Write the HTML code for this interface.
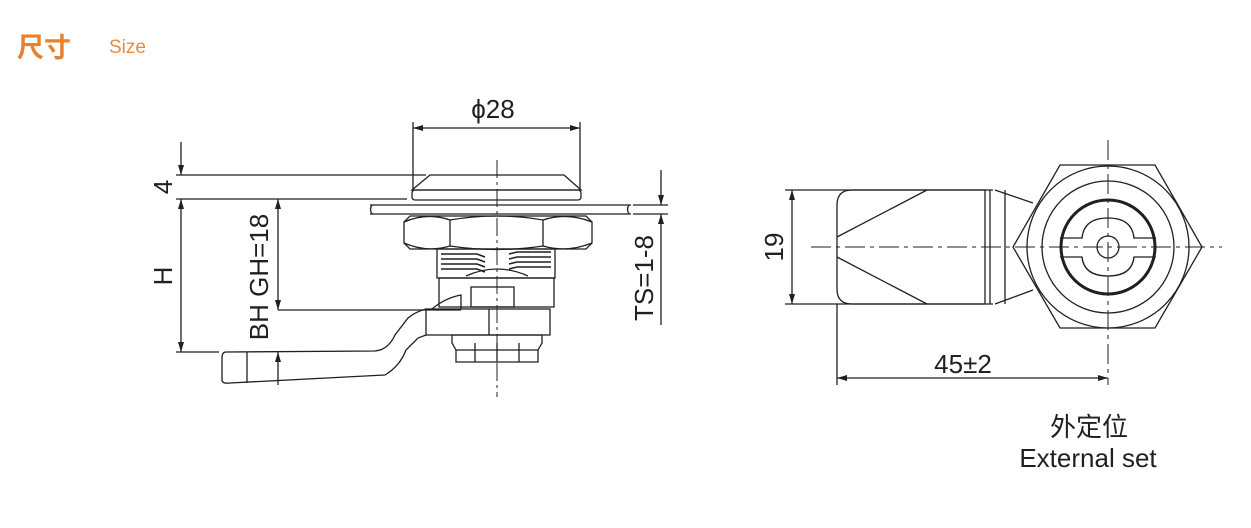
<!DOCTYPE html>
<html><head><meta charset="utf-8"><style>
html,body{margin:0;padding:0;background:#fff;}
svg{display:block}
text{font-family:"Liberation Sans","Noto Sans CJK SC",sans-serif;fill:#231f20}
</style></head><body>
<svg width="1251" height="528" viewBox="0 0 1251 528" xmlns="http://www.w3.org/2000/svg">
<defs>
<marker id="a" viewBox="0 0 10 6" refX="10" refY="3" markerWidth="10" markerHeight="6" orient="auto-start-reverse" markerUnits="userSpaceOnUse"><path d="M0,0 L10,3 L0,6 z" fill="#231f20"/></marker>
</defs>
<text x="17" y="57" style="font-size:27px;font-weight:bold;fill:#e8812f;font-family:'Noto Sans CJK SC',sans-serif">尺寸</text>
<text x="109" y="53" style="font-size:19px;fill:#ec8a3c">Size</text>

<g stroke="#231f20" fill="none" stroke-width="1.3">
<line x1="413" y1="122" x2="413" y2="190"/><line x1="580" y1="122" x2="580" y2="190"/>
<line x1="413" y1="128" x2="580" y2="128" marker-start="url(#a)" marker-end="url(#a)"/>
<path d="M430,175 L564,175 L581,190 L412,190 Z"/>
<rect x="412" y="190" width="169" height="10" rx="3"/>
<path d="M370,205 L631,205 M370,214 L631,214 M372,205 q-3,4 0,9 M629,205 q-3,4 0,9"/>
<!-- hex nut -->
<path d="M410,216 L586,216 L592,222 L592,243 L586,249 L410,249 L404,243 L404,222 Z"/>
<path d="M450,220 L450,246 M543,220 L543,246"/>
<path d="M404,222 Q427,212 450,220 Q497,212 543,220 Q567,212 592,222 M404,243 Q427,253 450,246 Q497,253 543,246 Q567,253 592,243"/>
<!-- thread -->
<rect x="437" y="249" width="118" height="29"/>
<path d="M441,254 h36 l8,3 M441,259 h36 l8,3 M441,264 h36 l8,3 M441,269 h36 l8,3 M509,254 l8,-2 h34 M509,259 l8,-2 h34 M509,264 l8,-2 h34 M509,269 l8,-2 h34" stroke-width="1.6"/>
<path d="M466,276 Q497,262 528,276"/>
<!-- body -->
<rect x="439" y="278" width="115" height="29"/>
<rect x="471" y="287" width="43" height="20"/>
<!-- cam -->
<rect x="426" y="309" width="124" height="26"/>
<line x1="489" y1="309" x2="489" y2="335"/>
<path d="M426,309 Q415,312 408,318 L395,335 Q388,350 375,351 L226,352 Q222,352 222,358 L222,380 Q222,384 230,383 L385,375 Q400,366 406,350 L418,338 L426,335"/>
<line x1="247" y1="352" x2="247" y2="383"/>
<path d="M432,309 Q445,298 461,295 L461,309"/>
<!-- bottom nut -->
<path d="M452,335 L542,335 L542,343 L538,350 L538,362 L456,362 L456,350 L452,343 Z"/>
<path d="M475,343 v19 M497,343 v19 M519,343 v19 M456,350 h82"/>
<line x1="497" y1="160" x2="497" y2="397" stroke-dasharray="18,4,3,4" stroke-width="1"/>
<line x1="176" y1="175" x2="426" y2="175"/><line x1="176" y1="199" x2="407" y2="199"/>
<line x1="181" y1="142" x2="181" y2="175" marker-end="url(#a)"/>
<line x1="181" y1="199" x2="181" y2="352" marker-start="url(#a)" marker-end="url(#a)"/>
<line x1="176" y1="352" x2="219" y2="352"/>
<line x1="278" y1="199" x2="278" y2="310" marker-start="url(#a)" marker-end="url(#a)"/>
<line x1="278" y1="352" x2="278" y2="385" marker-start="url(#a)"/>
<line x1="278" y1="310" x2="461" y2="310"/>
<line x1="633" y1="205" x2="668" y2="205"/><line x1="633" y1="214" x2="668" y2="214"/>
<line x1="661" y1="170" x2="661" y2="205" marker-end="url(#a)"/>
<line x1="661" y1="214" x2="661" y2="325" marker-start="url(#a)"/>

<!-- right view -->
<line x1="785" y1="190" x2="993" y2="190"/><line x1="785" y1="304" x2="993" y2="304"/>
<line x1="792" y1="190" x2="792" y2="304" marker-start="url(#a)" marker-end="url(#a)"/>
<path d="M852,190 L985,190 L985,304 L852,304 Q837,304 837,289 L837,205 Q837,190 852,190 Z"/>
<path d="M927,190 L837,237 M837,257 L927,304"/>
<path d="M990,190 V304 M1005,190 V304 M995,190 L1033,203 M995,304 L1033,290"/>
<path d="M1060,165 L1155,165 L1202,247 L1155,328 L1060,328 L1013,247 Z"/>
<circle cx="1108" cy="247" r="81" fill="#fff"/>
<circle cx="1108" cy="247" r="66"/>
<circle cx="1108" cy="247" r="47" stroke-width="3"/>
<path d="M1060,238 L1082,238 Q1084,218 1108,218 Q1132,218 1134,238 L1156,238 M1060,257 L1082,257 Q1084,276 1108,276 Q1132,276 1134,257 L1156,257"/>
<circle cx="1108" cy="247" r="11"/>
<line x1="811" y1="247" x2="1222" y2="247" stroke-dasharray="20,5,4,5" stroke-width="1"/>
<line x1="1108" y1="140" x2="1108" y2="385" stroke-dasharray="20,5,4,5" stroke-width="1"/>
<line x1="837" y1="304" x2="837" y2="385"/>
<line x1="837" y1="378" x2="1108" y2="378" marker-start="url(#a)" marker-end="url(#a)"/>
</g>

<g style="font-size:26px">
<text x="493" y="118" text-anchor="middle">ϕ28</text>
<text transform="translate(172,187) rotate(-90)" text-anchor="middle">4</text>
<text transform="translate(172,276) rotate(-90)" text-anchor="middle">H</text>
<text transform="translate(268,277) rotate(-90)" text-anchor="middle">BH GH=18</text>
<text transform="translate(653,278) rotate(-90)" text-anchor="middle">TS=1-8</text>
<text transform="translate(783,247) rotate(-90)" text-anchor="middle">19</text>
<text x="963" y="373" text-anchor="middle">45±2</text>
<text x="1089" y="436" text-anchor="middle" style="font-family:'Noto Sans CJK SC',sans-serif">外定位</text>
<text x="1088" y="467" text-anchor="middle">External set</text>
</g>
</svg>
</body></html>
